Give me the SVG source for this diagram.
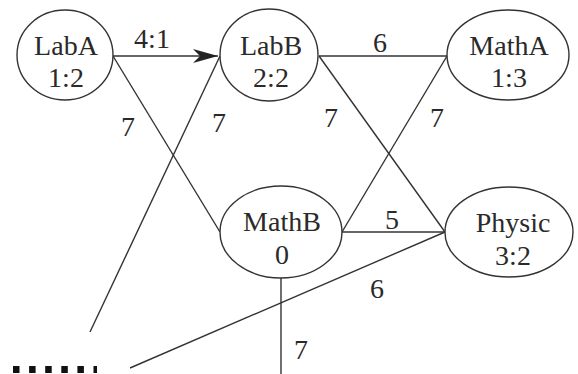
<svg xmlns="http://www.w3.org/2000/svg" width="578" height="374" viewBox="0 0 578 374">
<style>
.n{fill:#fff;stroke:#333;stroke-width:1.4}
.t{font-family:"Liberation Serif","Times New Roman",serif;font-size:28px;fill:#2a2a2a;text-anchor:middle}
.e{stroke:#333;stroke-width:1.4;fill:none}
</style>
<defs>
<marker id="arr" markerWidth="26" markerHeight="14" refX="25" refY="7" orient="auto" markerUnits="userSpaceOnUse">
<path d="M0,0 L25,7 L0,14 L7,7 Z" fill="#222"/>
</marker>
</defs>
<rect width="578" height="374" fill="#fff"/>
<g id="connectors">
<line class="e" x1="113" y1="56" x2="218" y2="56" stroke-width="2.2" marker-end="url(#arr)"/>
<line class="e" x1="113" y1="56" x2="220" y2="232"/>
<line class="e" x1="220" y1="56" x2="90" y2="332"/>
<line class="e" x1="319" y1="56" x2="447" y2="56"/>
<line class="e" x1="319" y1="56" x2="445" y2="232"/>
<line class="e" x1="342" y1="232" x2="447" y2="56"/>
<line class="e" x1="342" y1="232" x2="445" y2="232"/>
<line class="e" x1="445" y1="232" x2="130" y2="368"/>
<line class="e" x1="281" y1="278" x2="281" y2="374"/>
<line x1="13" y1="369.5" x2="97" y2="369.5" stroke="#111" stroke-width="7" stroke-dasharray="6.5 9.6"/>
<text class="t" x="152" y="48">4:1</text>
<text class="t" x="128" y="136">7</text>
<text class="t" x="219" y="132">7</text>
<text class="t" x="380" y="52">6</text>
<text class="t" x="331" y="127">7</text>
<text class="t" x="437" y="127">7</text>
<text class="t" x="392" y="229">5</text>
<text class="t" x="377" y="298">6</text>
<text class="t" x="301" y="359">7</text>
</g>
<g id="LabA">
<ellipse class="n" cx="65" cy="55" rx="48" ry="45"/>
<text class="t" x="66" y="55">LabA</text>
<text class="t" x="66" y="87">1:2</text>
</g>
<g id="LabB">
<ellipse class="n" cx="269" cy="55" rx="49" ry="46"/>
<text class="t" x="271" y="55">LabB</text>
<text class="t" x="271" y="87">2:2</text>
</g>
<g id="MathA">
<ellipse class="n" cx="508" cy="55" rx="61" ry="45"/>
<text class="t" x="509" y="55">MathA</text>
<text class="t" x="509" y="87">1:3</text>
</g>
<g id="MathB">
<ellipse class="n" cx="281" cy="232" rx="61" ry="46"/>
<text class="t" x="282" y="231">MathB</text>
<text class="t" x="282" y="264">0</text>
</g>
<g id="Physic">
<ellipse class="n" cx="509" cy="232" rx="64" ry="45"/>
<text class="t" x="513" y="232">Physic</text>
<text class="t" x="513" y="265">3:2</text>
</g>
</svg>
